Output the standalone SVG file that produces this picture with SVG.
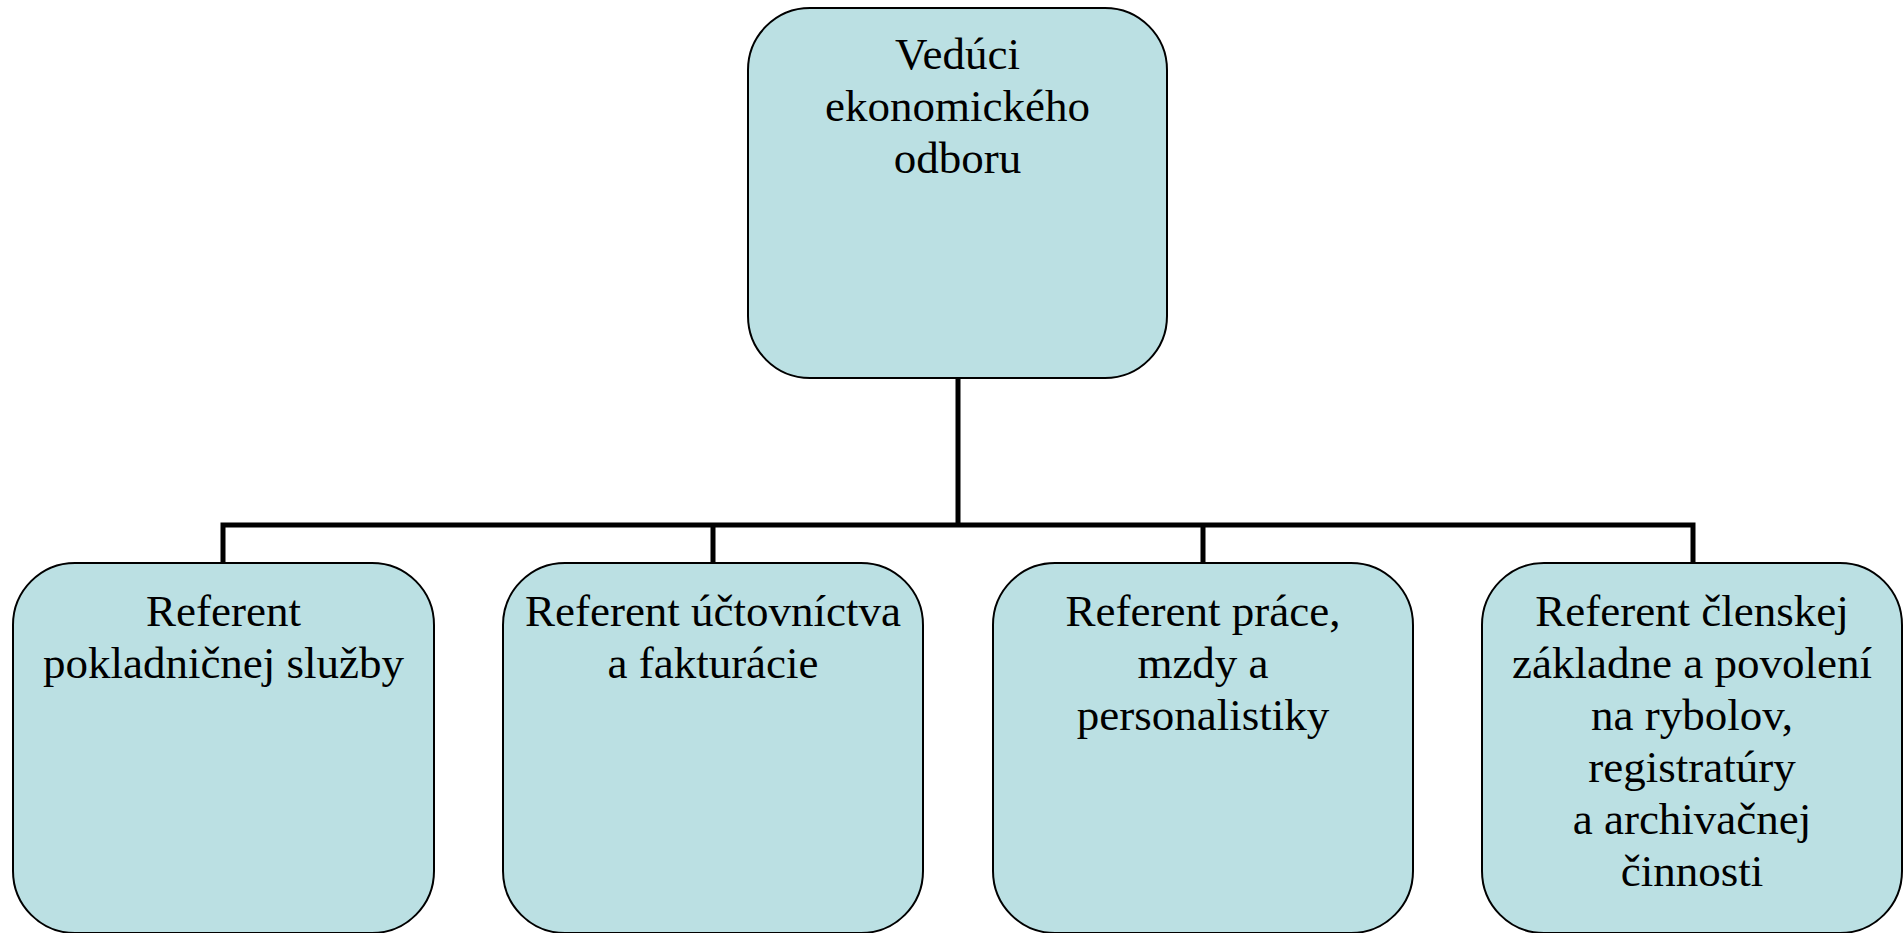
<svg xmlns="http://www.w3.org/2000/svg" width="1904" height="933" viewBox="0 0 1904 933">
<style>
.box{fill:#BBE0E3;stroke:#000;stroke-width:2}
.t{font-family:"Liberation Serif","Times New Roman",serif;font-size:45px;fill:#000;text-anchor:middle}
.c{fill:none;stroke:#000;stroke-width:5}
</style>
<rect width="1904" height="933" fill="#fff"/>
<g id="connectors">
<path class="c" d="M958,378 V525 M223,563 V525 H1693 V563 M713,525 V563 M1203,525 V563"/>
</g>
<g id="n0">
<rect class="box" x="748" y="8" width="419" height="370" rx="62" ry="62"/>
<text class="t"><tspan x="957.5" y="69">Vedúci</tspan><tspan x="957.5" y="121">ekonomického</tspan><tspan x="957.5" y="173">odboru</tspan></text>
</g>
<g id="n1">
<rect class="box" x="13" y="563" width="421" height="370" rx="62" ry="62"/>
<text class="t"><tspan x="223.5" y="626">Referent</tspan><tspan x="223.5" y="678">pokladničnej služby</tspan></text>
</g>
<g id="n2">
<rect class="box" x="503" y="563" width="420" height="370" rx="62" ry="62"/>
<text class="t"><tspan x="713" y="626">Referent účtovníctva</tspan><tspan x="713" y="678">a fakturácie</tspan></text>
</g>
<g id="n3">
<rect class="box" x="993" y="563" width="420" height="370" rx="62" ry="62"/>
<text class="t"><tspan x="1203" y="626">Referent práce,</tspan><tspan x="1203" y="678">mzdy a</tspan><tspan x="1203" y="730">personalistiky</tspan></text>
</g>
<g id="n4">
<rect class="box" x="1482" y="563" width="420" height="370" rx="62" ry="62"/>
<text class="t"><tspan x="1692" y="626">Referent členskej</tspan><tspan x="1692" y="678">základne a povolení</tspan><tspan x="1692" y="730">na rybolov,</tspan><tspan x="1692" y="782">registratúry</tspan><tspan x="1692" y="834">a archivačnej</tspan><tspan x="1692" y="886">činnosti</tspan></text>
</g>
</svg>
